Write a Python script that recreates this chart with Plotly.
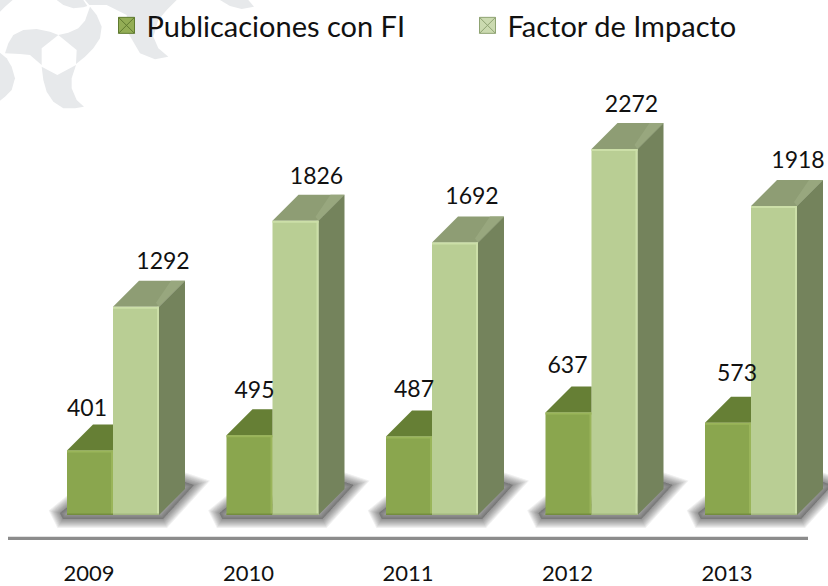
import plotly.graph_objects as go

years = [2009, 2010, 2011, 2012, 2013]
publicaciones = [401, 495, 487, 637, 573]
factor_impacto = [1292, 1826, 1692, 2272, 1918]
series_names = ["Publicaciones con FI", "Factor de Impacto"]

W, H = 828, 586
BASE_PX = 515.0
AXIS_BOTTOM_PX = 545.0
LINE_PX = 538.3
PX_PER_UNIT = 0.1611
PX_PER_YEAR = 159.5
YEAR0_PX = 89.0
BAR_PX = 46.0
DEPTH = 26.0
FONT = "Lato"


def dx(px):
    return px / PX_PER_YEAR


def dy(px):
    return px / PX_PER_UNIT


def xp(px):
    return years[0] + (px - YEAR0_PX) / PX_PER_YEAR


def yp(px):
    return (BASE_PX - px) / PX_PER_UNIT


def ring(xs, ys, pts):
    for a, b in pts:
        xs.append(a)
        ys.append(b)
    xs.append(None)
    ys.append(None)


fig = go.Figure()

green_l = [y + dx(67 - YEAR0_PX) for y in years]
light_l = [g + dx(BAR_PX) for g in green_l]

fig.add_trace(go.Bar(x=[g + dx(BAR_PX / 2) for g in green_l], y=publicaciones, width=dx(BAR_PX),
                     marker=dict(color="#8AA64E", line=dict(width=0)), showlegend=False, hoverinfo="skip"))
fig.add_trace(go.Bar(x=[g + dx(BAR_PX / 2) for g in light_l], y=factor_impacto, width=dx(BAR_PX),
                     marker=dict(color="#B9CE94", line=dict(width=0)), showlegend=False, hoverinfo="skip"))

# extruded faces, derived from the values
gt_x, gt_y, lt_x, lt_y, lt2_x, lt2_y, ls_x, ls_y = [], [], [], [], [], [], [], []
for gl, ll, a, b in zip(green_l, light_l, publicaciones, factor_impacto):
    d, e, w = dx(DEPTH), dy(DEPTH), dx(BAR_PX)
    ring(gt_x, gt_y, [(gl, a), (gl + d, a + e), (ll, a + e), (ll, a)])
    ring(lt_x, lt_y, [(ll, b), (ll + d, b + e), (ll + w + d, b + e), (ll + w, b)])
    ring(lt2_x, lt2_y, [(ll + w, b), (ll + w + d, b + e), (ll + w + d - dx(14), b + e), (ll + w - dx(3), b + dy(4))])
    ring(ls_x, ls_y, [(ll + w, 0), (ll + w + d, e), (ll + w + d, b + e), (ll + w, b)])

for xs, ys, col in [(gt_x, gt_y, "#667F35"), (lt_x, lt_y, "#8E9D74"), (lt2_x, lt2_y, "#98A77E"), (ls_x, ls_y, "#74835C")]:
    fig.add_trace(go.Scatter(x=xs, y=ys, mode="lines", fill="toself", fillcolor=col, line=dict(width=0),
                             showlegend=False, hoverinfo="skip"))

# value labels: pixel nudges from each bar's front top centre
green_nudge = [(-3, -40), (5, -43), (5, -45), (-1, -45), (9, -47)]
light_nudge = [(27, -44), (21, -43), (17, -44), (17, -43), (24, -44)]
tx, ty, tt = [], [], []
for i in range(len(years)):
    tx.append(green_l[i] + dx(BAR_PX / 2 + green_nudge[i][0]))
    ty.append(publicaciones[i] - dy(green_nudge[i][1]))
    tt.append(str(publicaciones[i]))
    tx.append(light_l[i] + dx(BAR_PX / 2 + light_nudge[i][0]))
    ty.append(factor_impacto[i] - dy(light_nudge[i][1]))
    tt.append(str(factor_impacto[i]))
fig.add_trace(go.Scatter(x=tx, y=ty, text=tt, mode="text", textposition="middle center", cliponaxis=False,
                         textfont=dict(family=FONT, size=23, color="#111111"), showlegend=False, hoverinfo="skip"))

# legend entries
fig.add_trace(go.Scatter(x=[None], y=[None], mode="markers", name=series_names[0],
                         marker=dict(symbol="square-x", size=19, color="#93AD55", line=dict(color="#5F7A2F", width=1))))
fig.add_trace(go.Scatter(x=[None], y=[None], mode="markers", name=series_names[1],
                         marker=dict(symbol="square-x", size=19, color="#CBDAB0", line=dict(color="#8FA373", width=1))))

shapes = []

# watermark (pixel outlines, zoom units / 3)
wm = [
    [(270, 20), (290, 45), (305, 80), (300, 115), (280, 145), (255, 170), (228, 192), (230, 150), (175, 105), (205, 98), (235, 85), (255, 62)],
    [(175, 105), (150, 95), (110, 87), (70, 90), (40, 105), (25, 130), (15, 160), (60, 162), (90, 165), (125, 195), (125, 145)],
    [(125, 200), (172, 225), (228, 195), (215, 235), (215, 265), (230, 300), (252, 320), (225, 325), (190, 325), (160, 305), (140, 275), (130, 240)],
    [(0, 158), (20, 175), (35, 200), (45, 235), (35, 270), (15, 290), (0, 302)],
    [(170, 0), (190, 15), (220, 25), (250, 22), (262, 18), (250, 0)],
    [(255, 0), (268, 15), (320, 15), (380, 45), (385, 100), (420, 160), (465, 178), (505, 170), (475, 145), (460, 110), (475, 60), (500, 30), (530, 0)],
    [(660, 0), (690, 18), (725, 27), (762, 20), (745, 0)],
    [(0, 35), (15, 20), (38, 0), (0, 0)],
]
for poly in wm:
    path = "M " + " L ".join(f"{p[0] / 3 / W:.5f},{1 - p[1] / 3 / H:.5f}" for p in poly) + " Z"
    shapes.append(dict(type="path", xref="paper", yref="paper", path=path, fillcolor="#E7E9EB",
                       line=dict(width=0), layer="below"))

# soft floor shadows: nested blurred outlines of a narrow core
for gl in green_l:
    L = gl
    R = gl + dx(2 * BAR_PX)
    pts = [(L - dx(7), yp(513)), (L + dx(4), yp(504)), (R, yp(504)), (R + dx(26), yp(482)), (R + dx(35), yp(485)),
           (R + dx(4), yp(519)), (L - dx(4), yp(519))]
    path = "M " + " L ".join(f"{a},{b}" for a, b in pts) + " Z"
    for lw in [18, 16, 14, 12, 10, 8, 6, 4, 2]:
        shapes.append(dict(type="path", xref="x", yref="y", path=path, fillcolor="rgba(60,60,60,0.035)",
                           line=dict(width=lw, color="rgba(60,60,60,0.075)"), layer="below"))

# bevel highlights on the fronts
for gl, ll, a, b in zip(green_l, light_l, publicaciones, factor_impacto):
    for l0, v, hi, lo in [(gl, a, "#9AB55A", "#748D3E"), (ll, b, "#CCDFA8", "#A3B780")]:
        r0 = l0 + dx(BAR_PX)
        shapes.append(dict(type="rect", xref="x", yref="y", x0=r0 - dx(2), x1=r0, y0=0, y1=v,
                           fillcolor=hi, line=dict(width=0), layer="above"))
        shapes.append(dict(type="rect", xref="x", yref="y", x0=l0, x1=r0, y0=v - dy(2), y1=v,
                           fillcolor=hi, line=dict(width=0), layer="above"))
        shapes.append(dict(type="rect", xref="x", yref="y", x0=l0, x1=r0, y0=0, y1=dy(1.5),
                           fillcolor=lo, line=dict(width=0), layer="above"))

# axis line
shapes.append(dict(type="line", xref="x", yref="y", x0=xp(8), x1=xp(808), y0=yp(LINE_PX), y1=yp(LINE_PX),
                   line=dict(color="#8C8C8C", width=3.3), layer="below"))

fig.update_layout(
    width=W, height=H, margin=dict(l=0, r=0, t=0, b=0, autoexpand=False),
    paper_bgcolor="rgba(0,0,0,0)", plot_bgcolor="rgba(0,0,0,0)", barmode="overlay",
    font=dict(family=FONT, color="#111111"),
    shapes=shapes,
    showlegend=True,
    legend=dict(orientation="h", x=106.5 / W, y=1, xanchor="left", yanchor="top",
                font=dict(family=FONT, size=29, color="#111111"), entrywidth=316, entrywidthmode="pixels",
                bgcolor="rgba(0,0,0,0)", itemclick=False, itemdoubleclick=False),
    xaxis=dict(range=[xp(0), xp(W)], domain=[0, 1], tickmode="array", tickvals=years,
               ticktext=[str(y) for y in years], showgrid=False, zeroline=False, showline=False,
               ticks="outside", ticklen=9, tickcolor="rgba(0,0,0,0)",
               tickfont=dict(family=FONT, size=22, color="#111111")),
    yaxis=dict(range=[yp(AXIS_BOTTOM_PX), yp(0)], domain=[1 - AXIS_BOTTOM_PX / H, 1], visible=False),
)

fig.write_html("out.html", config={"displayModeBar": False},
               post_script="document.body.style.margin='0';document.body.style.overflow='hidden';document.documentElement.style.background='white';")
